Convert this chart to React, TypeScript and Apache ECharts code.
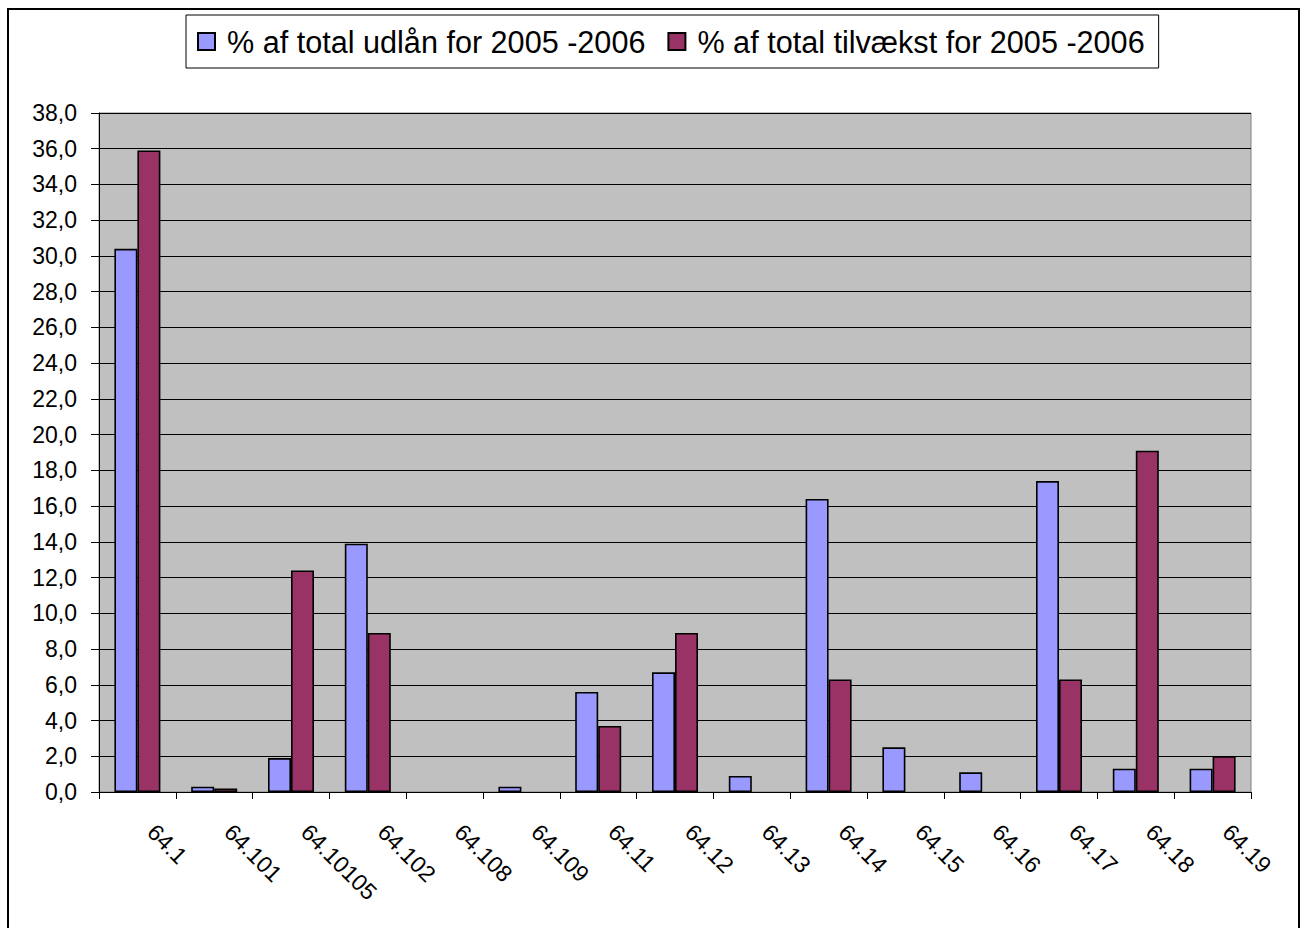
import React, { useEffect, useRef } from "react";
import * as echarts from "echarts";

const categories = ["64.1", "64.101", "64.10105", "64.102", "64.108", "64.109", "64.11", "64.12", "64.13", "64.14", "64.15", "64.16", "64.17", "64.18", "64.19"];
const udlaan = [30.4, 0.3, 1.9, 13.9, null, 0.3, 5.6, 6.7, 0.9, 16.4, 2.5, 1.1, 17.4, 1.3, 1.3];
const tilvaekst = [35.9, 0.2, 12.4, 8.9, null, null, 3.7, 8.9, null, 6.3, null, null, 6.3, 19.1, 2.0];
const seriesNames = ["% af total udlån for 2005 -2006", "% af total tilvækst for 2005 -2006"];

const FONT = "'Liberation Sans', Arial, sans-serif";

export default function App() {
  const ref = useRef<HTMLDivElement>(null);
  useEffect(() => {
    if (!ref.current) return;
    const chart = echarts.init(ref.current, null, { renderer: "svg" });
    chart.setOption({
      animation: false,
      textStyle: { fontFamily: FONT, color: "#000" },
      legend: {
        left: 177,
        top: 5,
        padding: [11, 14, 11, 11],
        borderColor: "#000",
        borderWidth: 1,
        itemWidth: 17,
        itemHeight: 17,
        itemGap: 22,
        icon: "rect",
        textStyle: { fontFamily: FONT, fontSize: 30.6, lineHeight: 30, color: "#000", padding: [0, 0, 0, 7] },
        data: seriesNames,
      },
      grid: {
        left: 90,
        top: 103,
        right: 47,
        bottom: 136,
        show: true,
        backgroundColor: "#c0c0c0",
        borderColor: "#808080",
        borderWidth: 1,
      },
      xAxis: {
        type: "category",
        data: categories,
        boundaryGap: true,
        axisLine: { lineStyle: { color: "#000", width: 1 } },
        axisTick: { show: true, inside: false, length: 7, alignWithLabel: false, lineStyle: { color: "#000" } },
        axisLabel: {
          interval: 0,
          rotate: -45,
          margin: 22,
          padding: [0, 0, 0, 20],
          fontFamily: FONT,
          fontSize: 23,
          color: "#000",
        },
        splitLine: { show: false },
      },
      yAxis: {
        type: "value",
        min: 0,
        max: 38,
        interval: 2,
        axisLine: { show: true, lineStyle: { color: "#000", width: 1 } },
        axisTick: { show: true, inside: false, length: 8, lineStyle: { color: "#000" } },
        axisLabel: {
          margin: 22,
          fontFamily: FONT,
          fontSize: 23,
          color: "#000",
          formatter: (v: number) => v.toFixed(1).replace(".", ","),
        },
        splitLine: { show: true, lineStyle: { color: "#000", width: 1 } },
      },
      series: [
        {
          name: seriesNames[0],
          type: "bar",
          data: udlaan,
          barWidth: 23,
          barGap: "0%",
          itemStyle: { color: "#9999ff", borderColor: "#000", borderWidth: 1.6 },
        },
        {
          name: seriesNames[1],
          type: "bar",
          data: tilvaekst,
          barWidth: 23,
          barGap: "0%",
          itemStyle: { color: "#993366", borderColor: "#000", borderWidth: 1.6 },
        },
      ],
    });
    return () => chart.dispose();
  }, []);

  return (
    <div
      style={{
        position: "fixed",
        left: 7,
        top: 8,
        width: 1293,
        height: 940,
        border: "2px solid #000",
        boxSizing: "border-box",
        background: "#fff",
      }}
    >
      <div ref={ref} style={{ position: "absolute", left: 0, top: 0, width: 1289, height: 918 }} />
    </div>
  );
}
